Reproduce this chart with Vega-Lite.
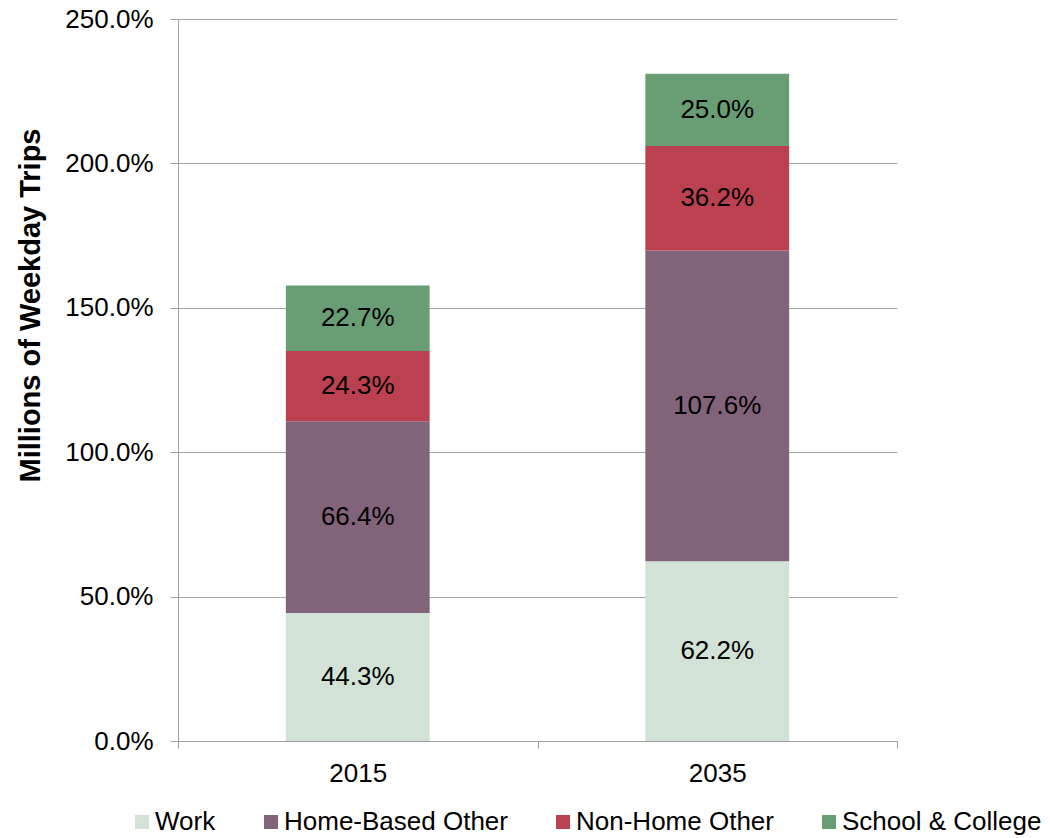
{
  "$schema": "https://vega.github.io/schema/vega-lite/v6.json",
  "autosize": {"type": "none"},
  "padding": {"left": 178, "top": 19, "right": 153, "bottom": 97},
  "width": 719,
  "height": 722,
  "background": "white",
  "config": {
    "font": "Liberation Sans",
    "view": {"stroke": null},
    "axis": {"domainColor": "#a0a0a0", "tickColor": "#a0a0a0", "gridColor": "#a6a6a6", "labelColor": "#000000", "labelFont": "Liberation Sans", "labelFontSize": 26}
  },
  "data": {
    "values": [
      {"year": "2015", "purpose": "Work", "k": 1, "share": 0.443},
      {"year": "2015", "purpose": "Home-Based Other", "k": 2, "share": 0.664},
      {"year": "2015", "purpose": "Non-Home Other", "k": 3, "share": 0.243},
      {"year": "2015", "purpose": "School & College", "k": 4, "share": 0.227},
      {"year": "2035", "purpose": "Work", "k": 1, "share": 0.622},
      {"year": "2035", "purpose": "Home-Based Other", "k": 2, "share": 1.076},
      {"year": "2035", "purpose": "Non-Home Other", "k": 3, "share": 0.362},
      {"year": "2035", "purpose": "School & College", "k": 4, "share": 0.25}
    ]
  },
  "encoding": {
    "x": {
      "field": "year", "type": "nominal",
      "scale": {"paddingInner": 0, "paddingOuter": 0},
      "axis": {"title": null, "labelAngle": 0, "tickBand": "extent", "tickSize": 7, "labelPadding": 12, "grid": false, "domainColor": "#a0a0a0"}
    },
    "y": {
      "field": "share", "type": "quantitative", "stack": "zero",
      "scale": {"domain": [0, 2.5], "nice": false},
      "axis": {
        "values": [0, 0.5, 1, 1.5, 2, 2.5],
        "format": ".1%",
        "grid": true,
        "tickSize": 8,
        "labelPadding": 17,
        "title": "Millions of Weekday Trips",
        "titleFont": "Liberation Sans",
        "titleFontSize": 29,
        "titleFontWeight": "bold",
        "titleColor": "#000000",
        "titleAngle": -90,
        "titleAlign": "center",
        "titleBaseline": "alphabetic",
        "titleX": -139,
        "titleY": 286
      }
    },
    "order": {"field": "k", "type": "quantitative", "sort": "ascending"}
  },
  "layer": [
    {
      "mark": {"type": "bar", "width": {"band": 0.4}},
      "encoding": {
        "color": {
          "field": "purpose", "type": "nominal",
          "scale": {
            "domain": ["Work", "Home-Based Other", "Non-Home Other", "School & College"],
            "range": ["#d2e2d7", "#816479", "#bc4150", "#699e75"]
          },
          "legend": {
            "title": null,
            "orient": "none",
            "direction": "horizontal",
            "legendX": -49,
            "legendY": 790,
            "padding": 0,
            "symbolType": "square",
            "symbolSize": 196,
            "symbolStrokeWidth": 0,
            "symbolOpacity": 1,
            "labelFont": "Liberation Sans",
            "labelFontSize": 26,
            "labelColor": "#000000",
            "labelOffset": 0,
            "columnPadding": 42,
            "labelLimit": 400
          }
        }
      }
    },
    {
      "mark": {"type": "text", "font": "Liberation Sans", "fontSize": 26, "color": "#000000", "baseline": "middle", "align": "center"},
      "encoding": {
        "y": {"field": "share", "type": "quantitative", "stack": "zero", "bandPosition": 0.5},
        "text": {"field": "share", "type": "quantitative", "format": ".1%"}
      }
    }
  ]
}
